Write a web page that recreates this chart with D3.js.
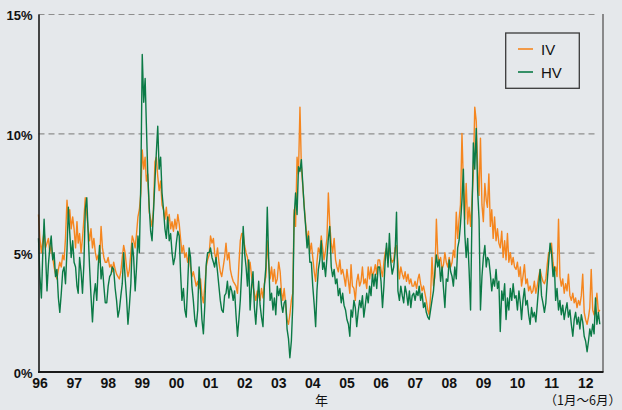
<!DOCTYPE html>
<html><head><meta charset="utf-8">
<script src="https://cdn.jsdelivr.net/npm/d3@7"></script>
<style>
html,body{margin:0;padding:0;background:#e5e8eb;}
svg{display:block;font-family:"Liberation Sans",Arial,sans-serif;}
</style></head><body>
<svg id="chart" width="622" height="410"></svg>
<script>
// ---- data (semi-monthly readings, % volatility) ----
const startYear = 1996;
const yearLabels = ["96","97","98","99","00","01","02","03","04","05","06","07","08","09","10","11","12"];
const yTicks = [0, 5, 10, 15];
const seriesNames = ["IV", "HV"];
const xAxisTitle = "年";
const periodNote = "（1月～6月）";

const ivValues = [
 6.6,5.6,5.0,5.5,5.9,5.2,5.4,5.6,5.0,5.3,4.8,4.4,4.1,3.9,4.3,4.6,4.4,4.9,4.7,5.6,7.2,6.4,6.8,6.0,
 6.5,6.0,5.2,6.3,5.4,5.8,5.0,5.6,6.4,7.3,6.6,6.0,5.5,6.0,5.2,5.6,5.0,4.7,4.9,4.6,6.1,5.2,4.8,4.6,
 4.6,4.8,4.4,4.5,4.2,4.6,4.3,4.1,4.0,3.9,4.2,4.8,5.3,5.0,4.4,4.0,4.3,5.0,5.7,5.5,5.2,5.8,6.5,6.8,
 7.5,9.3,8.5,9.0,8.0,8.3,6.7,6.4,6.1,6.8,8.8,9.0,8.2,7.6,8.0,7.0,6.8,6.4,6.9,6.2,6.6,6.0,6.3,5.9,
 6.4,6.0,6.6,6.2,5.6,5.0,5.3,4.8,5.0,4.6,4.9,4.4,4.0,4.2,3.9,3.6,3.8,3.5,3.9,3.2,2.9,3.6,4.4,4.7,
 4.9,5.7,5.4,5.6,5.0,4.7,5.2,4.6,4.2,4.0,4.4,4.8,5.4,4.7,5.0,4.3,4.0,3.8,3.7,3.6,3.3,4.5,5.5,5.8,
 5.8,5.3,5.0,4.8,4.2,4.6,4.0,3.6,3.3,3.0,3.4,3.2,3.0,3.5,3.1,3.7,4.0,5.5,4.6,3.9,4.4,3.8,4.3,3.7,
 3.9,4.6,4.2,3.3,3.0,3.5,2.8,2.2,2.0,2.4,3.0,3.3,6.8,6.1,9.0,8.3,11.1,8.6,7.8,7.0,6.2,5.5,5.9,5.0,
 5.4,4.8,4.2,3.8,4.6,5.2,5.0,5.7,5.2,4.7,5.1,5.6,7.5,6.2,5.4,5.0,5.6,4.7,4.4,4.2,4.7,4.1,4.3,4.0,
 3.6,4.3,3.8,3.3,4.5,3.6,3.5,3.0,3.8,4.1,3.6,3.8,4.4,3.7,3.9,3.5,4.4,3.9,4.4,4.0,4.2,4.5,4.1,4.7,
 4.7,4.3,4.0,4.6,5.0,5.2,4.6,5.2,4.8,4.6,4.7,5.2,5.3,4.6,3.9,4.4,4.1,3.9,4.2,3.8,4.1,3.7,3.9,3.6,
 3.6,3.8,3.5,3.9,4.1,3.7,3.4,3.6,3.3,3.0,2.6,2.4,3.2,4.8,3.6,4.0,6.4,4.9,4.6,4.8,4.3,4.5,5.0,4.6,
 4.4,4.8,4.4,4.6,5.1,4.8,6.7,5.6,6.4,7.0,10.0,7.9,6.4,7.9,6.2,6.9,6.1,7.2,8.3,11.1,10.5,8.5,7.4,9.8,
 7.0,6.3,7.9,7.2,6.9,8.3,6.1,6.8,5.6,6.5,5.5,6.0,5.4,5.2,5.9,4.8,5.5,4.7,5.8,4.6,5.0,4.5,4.8,4.4,
 4.3,4.6,4.0,4.4,3.6,4.0,4.5,3.7,3.9,3.4,3.6,3.3,3.4,3.8,3.3,3.6,4.0,4.3,4.0,3.8,3.7,3.9,4.5,5.0,
 5.0,5.4,4.6,4.2,4.4,4.0,6.4,4.0,3.6,3.9,3.3,3.7,3.4,4.1,3.2,3.0,3.3,2.9,3.1,2.7,3.0,2.8,3.2,4.1,
 2.5,2.2,2.0,2.3,2.7,4.3,2.6,2.4,2.8,3.3,2.5,2.6
];

const hvValues = [
 5.6,4.0,3.1,5.0,6.4,5.0,3.4,4.5,5.2,5.7,4.7,5.0,4.0,4.3,3.1,2.5,3.3,4.2,4.4,3.7,5.1,6.9,5.8,4.8,
 5.5,4.6,4.4,3.6,3.3,4.8,4.2,3.3,4.5,6.8,7.3,5.8,4.4,3.2,2.1,3.2,3.7,3.0,4.4,5.3,3.9,4.4,3.6,2.9,
 2.9,3.6,4.0,4.1,4.4,4.3,3.5,3.0,2.3,2.6,3.2,3.7,5.0,4.0,3.1,2.0,2.8,3.7,5.4,4.8,3.4,4.4,5.7,5.0,
 8.0,13.3,11.3,12.3,10.4,8.3,6.9,5.9,5.5,6.7,8.0,9.2,10.3,8.5,9.0,7.5,6.8,6.0,5.6,6.5,5.5,5.8,5.0,4.5,
 4.8,5.4,5.9,5.7,4.2,3.0,3.5,2.6,2.3,3.6,5.2,4.8,3.6,3.0,2.2,1.9,2.6,4.4,3.4,2.2,1.6,2.8,4.5,5.0,
 5.0,5.2,4.8,4.6,4.4,4.8,4.2,3.6,3.0,2.6,2.5,3.2,3.3,3.8,3.1,3.6,3.4,3.0,3.4,2.4,1.5,2.2,3.0,4.2,
 6.1,5.0,4.4,3.6,4.7,2.6,3.6,4.2,2.7,2.0,3.0,3.8,2.8,2.3,1.9,3.6,4.4,6.9,4.7,3.0,3.3,2.6,3.1,2.4,
 3.6,3.2,3.5,2.8,2.5,2.9,3.0,1.8,1.4,0.6,1.3,2.8,6.5,7.5,6.6,8.6,8.4,8.9,7.9,6.9,6.1,5.2,5.7,4.6,
 4.6,3.6,2.8,1.9,3.4,4.3,4.7,5.5,4.3,4.6,4.0,4.8,5.6,6.1,4.4,4.0,4.3,3.7,3.9,3.2,3.5,2.9,3.3,2.8,
 2.6,2.2,2.0,1.5,2.6,2.3,3.0,2.7,1.9,2.5,3.0,2.7,3.2,2.3,2.8,3.3,2.9,3.6,3.2,4.1,3.6,4.1,3.5,4.4,
 4.4,3.8,2.7,3.6,4.6,5.4,4.4,5.8,4.6,4.1,4.4,5.0,6.7,3.4,3.0,3.6,3.2,2.9,3.6,3.3,2.8,3.4,2.7,3.2,
 3.3,3.0,3.4,3.2,3.6,3.0,3.3,2.7,2.9,2.5,2.3,2.2,2.6,3.0,3.4,4.2,4.9,4.4,4.7,3.8,4.4,3.5,2.7,3.9,
 3.8,4.7,4.2,4.0,3.6,4.4,3.9,5.2,5.5,6.2,7.2,8.5,5.8,4.8,5.6,4.3,2.6,6.5,9.6,8.5,10.2,7.6,6.4,2.6,
 4.0,4.8,5.3,4.4,4.8,4.7,4.1,3.4,3.9,3.6,4.3,3.5,3.8,1.7,3.4,3.0,3.7,2.2,3.1,2.6,3.5,3.0,3.7,3.1,
 3.2,2.6,3.4,2.9,2.2,3.0,3.5,2.8,3.0,2.4,2.0,2.7,2.3,2.5,2.1,2.8,3.6,4.3,3.2,2.9,2.5,2.9,3.8,4.6,
 5.4,5.0,4.0,4.4,3.0,3.5,2.6,3.0,2.4,2.8,2.2,2.6,2.9,2.3,2.6,2.0,1.5,2.2,2.5,2.0,2.3,1.8,2.4,2.1,
 1.5,1.3,0.85,1.3,1.8,1.5,2.0,1.6,3.1,2.0,2.5,2.0
];

// ---- drawing ----
const svg = d3.select("#chart");
const W = 622, H = 410;
const colors = { IV: "#f5861f", HV: "#0b7a46" };

const toDate = i => new Date(startYear + Math.floor(i / 24), Math.floor((i % 24) / 2), (i % 2) ? 16 : 1);

const x = d3.scaleTime()
  .domain([new Date(1996, 0, 1), new Date(2012, 6, 1)])
  .range([38.5, 601.2]);
const y = d3.scaleLinear().domain([0, 15]).range([372, 14]);

// background
svg.append("rect").attr("width", W).attr("height", H).attr("fill", "#e5e8eb");

// gridlines
const grid = svg.append("g").attr("transform", "translate(38.5,0)")
  .call(d3.axisLeft(y).tickValues(yTicks.filter(t => t > 0)).tickSize(-560).tickFormat(""));
grid.select(".domain").remove();
grid.selectAll("line").attr("stroke", "#8e8e8e").attr("stroke-width", 1.2).attr("stroke-dasharray", "6,4");

// right border
svg.append("line").attr("x1", 603).attr("x2", 603).attr("y1", y(15)).attr("y2", y(0))
  .attr("stroke", "#6a6a6a").attr("stroke-width", 1.5);

// series
const line = d3.line().x(d => x(d.date)).y(d => y(d.v)).curve(d3.curveLinear);
const ivData = ivValues.map((v, i) => ({ date: toDate(i), v }));
const hvData = hvValues.map((v, i) => ({ date: toDate(i), v }));

svg.append("path").datum(ivData).attr("d", line)
  .attr("fill", "none").attr("stroke", colors.IV).attr("stroke-width", 1.4).attr("stroke-linejoin", "round");
svg.append("path").datum(hvData).attr("d", line)
  .attr("fill", "none").attr("stroke", colors.HV).attr("stroke-width", 1.4).attr("stroke-linejoin", "round");

// left axis
const yAxis = svg.append("g").attr("transform", "translate(38.5,0)")
  .call(d3.axisLeft(y).tickValues(yTicks).tickSize(0).tickPadding(6).tickFormat(d => d + "%"));
yAxis.select(".domain").attr("stroke", "#1a1a1a").attr("stroke-width", 1.6);
yAxis.selectAll("text").attr("font-size", 13).attr("font-weight", "bold").attr("fill", "#111")
  .attr("dy", "0.45em").style("font-family", "'Liberation Sans', Arial, sans-serif");

// bottom axis
const yearDates = yearLabels.map((_, i) => new Date(startYear + i, 0, 1));
const xAxis = svg.append("g").attr("transform", "translate(0,372)")
  .call(d3.axisBottom(x).tickValues(yearDates).tickSize(0).tickPadding(6)
    .tickFormat((d, i) => yearLabels[i]));
xAxis.select(".domain").remove();
svg.append("line").attr("x1", 38).attr("x2", 603.5).attr("y1", 372).attr("y2", 372)
  .attr("stroke", "#1a1a1a").attr("stroke-width", 2);
xAxis.selectAll("text").attr("font-size", 14).attr("font-weight", "bold").attr("fill", "#111")
  .attr("dx", "1").style("font-family", "'Liberation Sans', Arial, sans-serif");

// axis title and note
svg.append("text").attr("x", 321.5).attr("y", 405).attr("text-anchor", "middle")
  .attr("font-size", 13).attr("fill", "#111")
  .style("font-family", "'Noto Sans CJK JP', sans-serif").text(xAxisTitle);
svg.append("text").attr("x", 621).attr("y", 405).attr("text-anchor", "end")
  .attr("font-size", 12.5).attr("fill", "#111")
  .style("font-family", "'Noto Sans CJK JP', sans-serif").text(periodNote);

// legend
const lg = svg.append("g");
lg.append("rect").attr("x", 505.7).attr("y", 33).attr("width", 73.6).attr("height", 55.3)
  .attr("fill", "none").attr("stroke", "#3a3a3a").attr("stroke-width", 1.3);
seriesNames.forEach((name, i) => {
  const cy = 49 + i * 23;
  lg.append("line").attr("x1", 518).attr("x2", 533).attr("y1", cy).attr("y2", cy)
    .attr("stroke", colors[name]).attr("stroke-width", 1.6);
  lg.append("text").attr("x", 541).attr("y", cy + 5.5).attr("font-size", 15).attr("fill", "#111")
    .text(name);
});
</script>
</body></html>
